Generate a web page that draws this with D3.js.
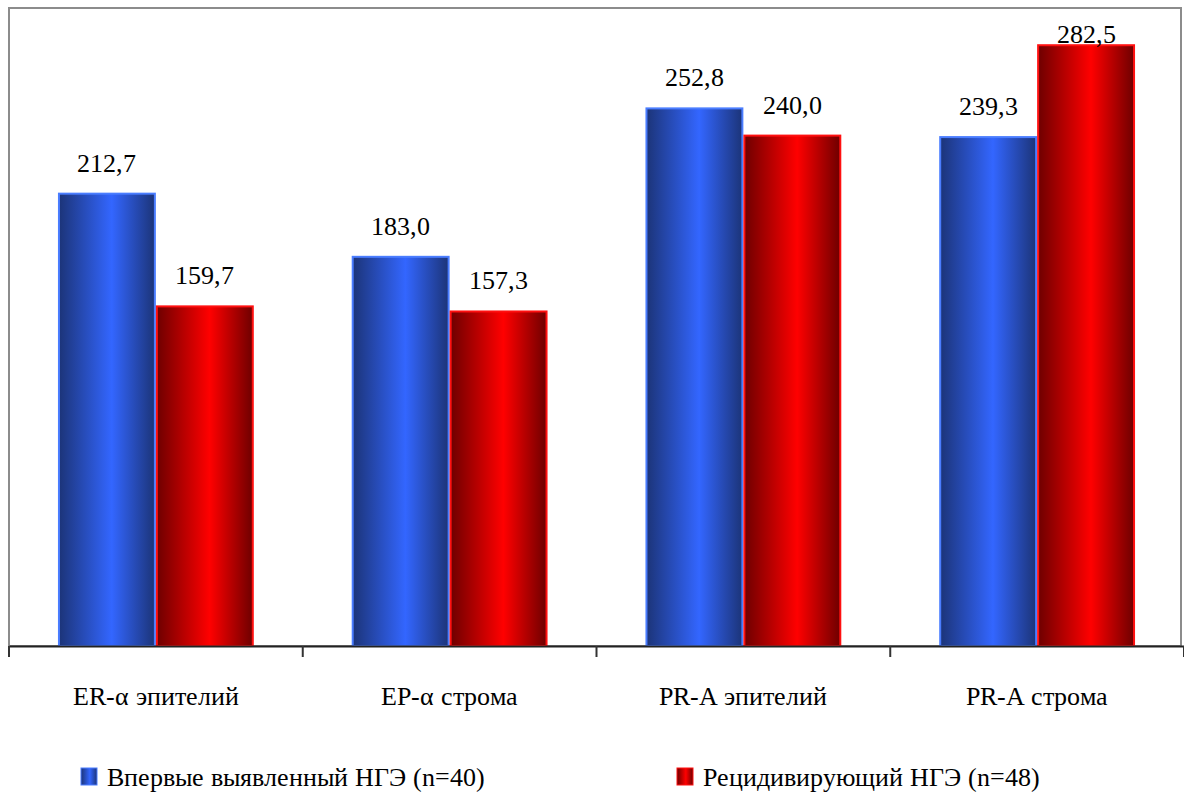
<!DOCTYPE html>
<html>
<head>
<meta charset="utf-8">
<script src="https://cdn.jsdelivr.net/npm/d3@7"></script>
<style>
  @font-face {
    font-family: "ChartSerif";
    src: local("Liberation Serif"), local("LiberationSerif"), local("LiberationSerif-Regular"),
         local("Times New Roman"), local("Tinos"), local("Tinos-Regular");
  }
</style>
</head>
<body style="margin:0;background:#fff">
<svg id="chart" width="1184" height="796" style="display:block"></svg>
<script>
// Receptor groups along the x axis
const categories = ["ER-α эпителий", "ЕР-α строма", "PR-A эпителий", "PR-A строма"];
// Series names (legend)
const seriesNames = ["Впервые выявленный НГЭ (n=40)", "Рецидивирующий НГЭ (n=48)"];
// Values for each series, in category order
const firstDetected = [212.7, 183.0, 252.8, 239.3];
const recurrent = [159.7, 157.3, 240.0, 282.5];
const yMax = 300;

const serifStack = "ChartSerif, 'Times New Roman', 'Liberation Serif', Tinos, serif";
const series = [
  { key: "s0", name: seriesNames[0], values: firstDetected },
  { key: "s1", name: seriesNames[1], values: recurrent }
];

const svg = d3.select("#chart");
const plot = { left: 9, right: 1184, top: 8, bottom: 646 };

const x0 = d3.scaleBand().domain(categories).range([plot.left, plot.right]).padding(0);
const x1 = d3.scaleBand().domain(series.map(s => s.key))
  .range([x0.bandwidth() / 6, x0.bandwidth() * 5 / 6]).padding(0);
const y = d3.scaleLinear().domain([0, yMax]).range([plot.bottom, plot.top]);

// Cylinder-like horizontal gradients
const defs = svg.append("defs");
function grad(id, dark, light) {
  const g = defs.append("linearGradient").attr("id", id)
    .attr("x1", "0%").attr("x2", "100%").attr("y1", "0%").attr("y2", "0%");
  g.append("stop").attr("offset", "0%").attr("stop-color", dark);
  g.append("stop").attr("offset", "55%").attr("stop-color", light);
  g.append("stop").attr("offset", "100%").attr("stop-color", dark);
}
grad("gBlue", "#1c3478", "#3366ff");
grad("gRed", "#6e0000", "#ff0000");
const fills = { s0: "url(#gBlue)", s1: "url(#gRed)" };
const strokes = { s0: "#4a7dff", s1: "#ff1010" };

function serif(sel) {
  return sel.attr("font-size", 26).attr("fill", "#000")
    .style("font-family", () => serifStack);
}

// Plot-area frame
svg.append("rect")
  .attr("x", plot.left).attr("y", plot.top)
  .attr("width", 1181 - plot.left).attr("height", plot.bottom - plot.top)
  .attr("fill", "none").attr("stroke", "#8c8c8c").attr("stroke-width", 2);

// Bars
const groups = svg.append("g").selectAll("g")
  .data(categories).join("g")
  .attr("transform", d => `translate(${x0(d)},0)`);

groups.selectAll("rect")
  .data((c, i) => series.map(s => ({ key: s.key, value: s.values[i] })))
  .join("rect")
  .attr("x", d => x1(d.key) + 1)
  .attr("y", d => y(d.value))
  .attr("width", x1.bandwidth() - 2)
  .attr("height", d => y(0) - y(d.value))
  .attr("fill", d => fills[d.key])
  .attr("stroke", d => strokes[d.key])
  .attr("stroke-width", 2);

// Value labels (kept inside the plot area)
groups.selectAll("text.val")
  .data((c, i) => series.map(s => ({ key: s.key, value: s.values[i] })))
  .join("text").attr("class", "val")
  .attr("x", d => x1(d.key) + x1.bandwidth() / 2)
  .attr("y", d => Math.max(y(d.value) - 22, plot.top + 35))
  .attr("text-anchor", "middle")
  .call(serif)
  .text(d => d3.format(".1f")(d.value).replace(".", ","));

// X axis
const xAxis = d3.axisBottom(x0).tickSize(0).tickFormat(d => d);
const ax = svg.append("g").attr("transform", `translate(0,${plot.bottom})`).call(xAxis);
ax.attr("font-family", null);
ax.select(".domain").attr("stroke", "#222").attr("stroke-width", 2);
ax.selectAll(".tick text").call(serif).attr("dy", 0).attr("y", 59);
// Tick marks at category boundaries
const bounds = categories.map(c => x0(c)).concat([plot.right]);
ax.selectAll("line.bound").data(bounds).join("line").attr("class", "bound")
  .attr("x1", d => d).attr("x2", d => d).attr("y1", 0).attr("y2", 11)
  .attr("stroke", "#333").attr("stroke-width", 2);

// Legend
const legendX = [81, 677];
const lg = svg.append("g").selectAll("g").data(series).join("g")
  .attr("transform", (d, i) => `translate(${legendX[i]},768)`);
lg.append("rect").attr("width", 16).attr("height", 17)
  .attr("fill", d => fills[d.key]).attr("stroke", d => strokes[d.key]).attr("stroke-width", 1);
lg.append("text").attr("x", 26).attr("y", 18).call(serif).text(d => d.name);
</script>
</body>
</html>
